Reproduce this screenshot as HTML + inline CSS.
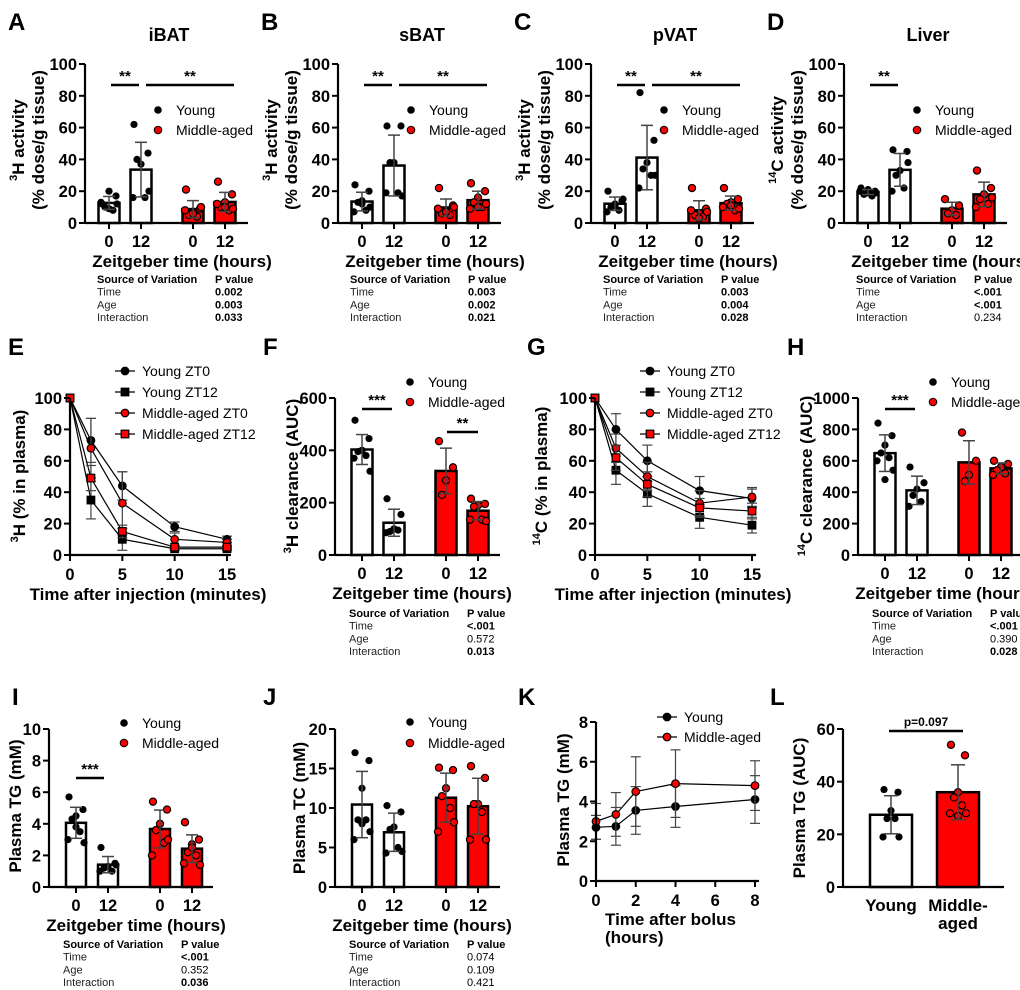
<!DOCTYPE html>
<html><head><meta charset="utf-8">
<style>
html,body{margin:0;padding:0;background:#fff;}
svg{display:block;font-family:"Liberation Sans",Arial,sans-serif;}
</style></head>
<body>
<svg id="fig" width="1020" height="990" viewBox="0 0 1020 990" xmlns="http://www.w3.org/2000/svg"></svg>
<script>
// ===== data =====
const zt = ["0","12","0","12"];
const ticks100 = [0,20,40,60,80,100];
// A iBAT
const aY0 = [12,17,20,10,8,13,12,9];
const aY12 = [62,44,37,40,16,16,20];
const aM0 = [21,9,7,5,4,8,10,6];
const aM12 = [26,18,13,10,8,12,9,10];
// B sBAT
const bY0 = [24,20,14,13,8,7,10,12];
const bY12 = [61,61,38,38,19,19,17];
const bM0 = [22,11,8,6,5,9,10,7];
const bM12 = [25,20,16,13,10,9,12,10];
// C pVAT
const cY0 = [20,14,12,10,8,7,15,11];
const cY12 = [82,52,38,34,30,22,30];
const cM0 = [22,9,6,5,4,8,7,3];
const cM12 = [22,15,13,12,8,10,9,11];
// D Liver
const dY0 = [22,20,19,18,17,20,19,21];
const dY12 = [46,45,33,30,22,20,38];
const dM0 = [15,11,8,6,5];
const dM12 = [33,22,18,15,12,10,16];
// E 3H plasma
const eTimes = [0,2,5,10,15];
const eYZ0 = [100,73,44,18,10];
const eYZ12 = [100,35,10,4,4];
const eMZ0 = [100,68,33,10,8];
const eMZ12 = [100,49,15,5,5];
const eErrYZ0 = [0,14,9,3,2];
const eErrYZ12 = [0,12,7,1,1];
const eErrMZ0 = [0,19,20,4,2];
const eErrMZ12 = [0,8,4,1,1];
// F 3H clearance
const fY0 = [515,445,400,395,380,370,320,400];
const fY12 = [215,155,100,90,95,85];
const fM0 = [435,335,285,230];
const fM12 = [215,195,190,185,135,135,130];
// G 14C plasma
const gYZ0 = [100,80,60,41,36];
const gYZ12 = [100,54,39,24,19];
const gMZ0 = [100,68,50,33,37];
const gMZ12 = [100,62,45,30,28];
const gErrYZ0 = [0,10,10,9,6];
const gErrYZ12 = [0,9,8,7,5];
const gErrMZ0 = [0,9,9,8,6];
const gErrMZ12 = [0,8,8,6,5];
// H 14C clearance
const hY0 = [840,760,700,650,620,600,540,480];
const hY12 = [560,460,420,380,340,310];
const hM0 = [780,600,510,470];
const hM12 = [600,580,560,540,520,510];
// I Plasma TG
const iY0 = [5.7,4.9,4.5,4.3,3.5,3.0,2.8,3.8];
const iY12 = [2.5,1.5,1.3,1.2,1.0,1.0,1.4];
const iM0 = [5.4,4.9,4.0,3.6,2.8,2.0,3.0];
const iM12 = [4.1,3.0,2.7,2.2,2.0,1.5,1.4,2.5];
// J Plasma TC
const jY0 = [17,16,12.5,8.5,8.5,6,7,8];
const jY12 = [10.3,9.5,7.6,7.3,5,4.3,4.5];
const jM0 = [15.1,14.8,12.5,11.5,10,7,8.2];
const jM12 = [15.3,13.8,10.5,10.5,9.5,6,6];
// K Plasma TG time course
const kTimes = [0,1,2,4,8];
const kYoung = [2.7,2.75,3.55,3.75,4.1];
const kMid = [3.0,3.35,4.5,4.9,4.8];
const kErrYoung = [0.6,0.95,1.2,1.05,1.2];
const kErrMid = [0.9,1.1,1.75,1.7,1.25];
// L Plasma TG AUC
const lCats = ["Young","Middle-aged"];
const lYoung = [37,36,29,26,26,19,19];
const lMid = [54,50,36,34,31,28,28,27];

// ===== helpers =====
const NS = "http://www.w3.org/2000/svg";
const svg = document.getElementById("fig");
const TF = 16.5;
function el(tag, attrs, parent, txt){
  const e = document.createElementNS(NS, tag);
  for (const k in attrs) e.setAttribute(k, attrs[k]);
  if (txt !== undefined) e.textContent = txt;
  (parent||svg).appendChild(e);
  return e;
}
function grp(name){
  const g = document.createElementNS(NS,"g");
  
  
  svg.appendChild(g);
  return g;
}
function mean(a){return a.reduce((s,v)=>s+v,0)/a.length;}
function sd(a){const m=mean(a);return Math.sqrt(a.reduce((s,v)=>s+(v-m)*(v-m),0)/(a.length-1));}
const jit = [-7,7,0,-4,4,-8,8,0,-3,3];

function letter(t,x,y,g){el("text",{x:x,y:y,"font-size":24,"font-weight":"bold"},g,t);}
function yAxis(g,ax,yb,yt,max,ticks){
  el("line",{x1:ax,y1:yb+1,x2:ax,y2:yt,stroke:"#000","stroke-width":2.2},g);
  ticks.forEach(t=>{
    const y = yb-(t/max)*(yb-yt);
    el("line",{x1:ax-6,y1:y,x2:ax,y2:y,stroke:"#000","stroke-width":2},g);
    const tx = el("text",{x:ax-8,y:y+6,"font-size":TF,"font-weight":"bold","text-anchor":"end"},g,String(t));
    
    
  });
}
function rotLabel(g,x,y,parts){
  const t = el("text",{x:0,y:0,"font-size":17,"font-weight":"bold","text-anchor":"middle",transform:`translate(${x},${y}) rotate(-90)`},g);
  parts.forEach(p=>{
    el("tspan",p.sup?{"font-size":11,dy:-7}:(p.down?{dy:7}:{}),t,p.t);
  });
  
  
  return t;
}
function legendDots(g,x,y1,y2){
  el("circle",{cx:x,cy:y1,r:3.8,fill:"#000"},g);
  el("circle",{cx:x,cy:y2,r:3.8,fill:"#e00",stroke:"#000","stroke-width":1},g);
  el("text",{x:x+18,y:y1+5,"font-size":14},g,"Young");
  el("text",{x:x+18,y:y2+5,"font-size":14},g,"Middle-aged");
}
function sig(g,x1,x2,y,stars){
  el("line",{x1:x1,y1:y,x2:x2,y2:y,stroke:"#000","stroke-width":2.5},g);
  el("text",{x:(x1+x2)/2,y:y-4,"font-size":15,"font-weight":"bold","text-anchor":"middle"},g,stars);
}
function table(g,x,y,rows){
  el("text",{x:x,y:y,"font-size":11,"font-weight":"bold"},g,"Source of Variation");
  el("text",{x:x+118,y:y,"font-size":11,"font-weight":"bold"},g,"P value");
  ["Time","Age","Interaction"].forEach((r,i)=>{
    el("text",{x:x,y:y+12.7*(i+1),"font-size":11,fill:"#222"},g,r);
    el("text",{x:x+118,y:y+12.7*(i+1),"font-size":11,"font-weight":rows[i][1]?"bold":"normal"},g,rows[i][0]);
  });
}
function barPanel(o){
  const g = grp(o.name);
  const yb=o.yb, yt=o.yt, max=o.max;
  const ys = v=>yb-(v/max)*(yb-yt);
  o.groups.forEach((pts,i)=>{
    const cx = o.ax+o.offs[i];
    const red = i>=2;
    const m = mean(pts), s = sd(pts);
    const r = el("rect",{x:cx-o.bw/2,y:ys(m),width:o.bw,height:yb-ys(m),fill:red?"#f00":"#fff",stroke:"#000","stroke-width":2.5},g);
    
    
    pts.forEach((v,k)=>{
      const c = el("circle",{cx:cx+jit[k%jit.length],cy:ys(v),r:3.6,fill:red?"#f00":"#000",stroke:"#000","stroke-width":red?1.2:0},g);
      
      
    });
    el("line",{x1:cx,y1:ys(m+s),x2:cx,y2:ys(Math.max(0,m-s)),stroke:"#444","stroke-width":1.5},g);
    el("line",{x1:cx-6,y1:ys(m+s),x2:cx+6,y2:ys(m+s),stroke:"#444","stroke-width":1.5},g);
    el("line",{x1:cx-6,y1:ys(Math.max(0,m-s)),x2:cx+6,y2:ys(Math.max(0,m-s)),stroke:"#444","stroke-width":1.5},g);
    el("text",{x:cx,y:yb+24,"font-size":TF,"font-weight":"bold","text-anchor":"middle"},g,o.cats[i]);
  });
  yAxis(g,o.ax,yb,yt,max,o.ticks);
  el("line",{x1:o.ax,y1:yb,x2:o.right,y2:yb,stroke:"#000","stroke-width":2.2},g);
  o.offs.forEach(off=>el("line",{x1:o.ax+off,y1:yb,x2:o.ax+off,y2:yb+6,stroke:"#000","stroke-width":2},g));
  if(o.xlab) el("text",{x:o.ax+o.xlabX,y:yb+44,"font-size":17,"font-weight":"bold","text-anchor":"middle"},g,"Zeitgeber time (hours)");
  return g;
}
function linePanel(o){
  const g = grp(o.name);
  const xs = v=>o.ax+(v/o.xmax)*(o.xr-o.ax);
  const ys = v=>o.yb-(v/o.max)*(o.yb-o.yt);
  const R = 3.8;
  o.series.forEach((s,si)=>{
    let d="";
    o.times.forEach((t,i)=>{d+=(i?"L":"M")+xs(t)+","+ys(s.v[i]);});
    const p = el("path",{d:d,fill:"none",stroke:"#000","stroke-width":1.2},g);
    
    
    o.times.forEach((t,i)=>{
      const e=s.e[i];
      if(e>0){
        el("line",{x1:xs(t),y1:ys(s.v[i]+e),x2:xs(t),y2:ys(s.v[i]-e),stroke:"#444","stroke-width":1.2},g);
        el("line",{x1:xs(t)-5,y1:ys(s.v[i]+e),x2:xs(t)+5,y2:ys(s.v[i]+e),stroke:"#444","stroke-width":1.2},g);
        el("line",{x1:xs(t)-5,y1:ys(s.v[i]-e),x2:xs(t)+5,y2:ys(s.v[i]-e),stroke:"#444","stroke-width":1.2},g);
      }
      let m;
      if(s.sq) m = el("rect",{x:xs(t)-R,y:ys(s.v[i])-R,width:2*R,height:2*R,fill:s.red?"#f00":"#000",stroke:"#000","stroke-width":1.2},g);
      else m = el("circle",{cx:xs(t),cy:ys(s.v[i]),r:R,fill:s.red?"#f00":"#000",stroke:"#000","stroke-width":1.2},g);
      
      
    });
  });
  yAxis(g,o.ax,o.yb,o.yt,o.max,o.ticks);
  el("line",{x1:o.ax,y1:o.yb,x2:o.xr+4,y2:o.yb,stroke:"#000","stroke-width":2.2},g);
  o.xticks.forEach(t=>{
    el("line",{x1:xs(t),y1:o.yb,x2:xs(t),y2:o.yb+6,stroke:"#000","stroke-width":2},g);
    el("text",{x:xs(t),y:o.yb+25,"font-size":TF,"font-weight":"bold","text-anchor":"middle"},g,String(t));
  });
  o.series.forEach((s,i)=>{
    const ly=o.ly+i*o.lstep;
    el("line",{x1:o.lx,y1:ly,x2:o.lx+20,y2:ly,stroke:"#000","stroke-width":1.2},g);
    if(s.sq) el("rect",{x:o.lx+10-R,y:ly-R,width:2*R,height:2*R,fill:s.red?"#f00":"#000",stroke:"#000","stroke-width":1.2},g);
    else el("circle",{cx:o.lx+10,cy:ly,r:R,fill:s.red?"#f00":"#000",stroke:"#000","stroke-width":1.2},g);
    el("text",{x:o.lx+27,y:ly+5,"font-size":14},g,s.name);
  });
  return g;
}

// ===== Row 1 =====
const row1 = [
  {L:"A",t:"iBAT",ax:85,g:[aY0,aY12,aM0,aM12],tab:[["0.002",1],["0.003",1],["0.033",1]],two:true,iso:"3",lab:"H activity"},
  {L:"B",t:"sBAT",ax:338,g:[bY0,bY12,bM0,bM12],tab:[["0.003",1],["0.002",1],["0.021",1]],two:true,iso:"3",lab:"H activity"},
  {L:"C",t:"pVAT",ax:591,g:[cY0,cY12,cM0,cM12],tab:[["0.003",1],["0.004",1],["0.028",1]],two:true,iso:"3",lab:"H activity"},
  {L:"D",t:"Liver",ax:844,g:[dY0,dY12,dM0,dM12],tab:[["<.001",1],["<.001",1],["0.234",0]],two:false,iso:"14",lab:"C activity"}
];
row1.forEach(p=>{
  const g = barPanel({name:"panel-"+p.L.toLowerCase()+"-"+p.t.toLowerCase(),ax:p.ax,yb:223,yt:64,max:100,ticks:ticks100,groups:p.g,offs:[24,56,108,140],bw:21,right:p.ax+163,cats:zt,xlab:true,xlabX:97});
  letter(p.L,p.ax-77,30,g);
  el("text",{x:p.ax+84,y:41,"font-size":18,"font-weight":"bold","text-anchor":"middle"},g,p.t);
  rotLabel(g,p.ax-61,140,[{t:p.iso,sup:true},{t:p.lab,down:true}]);
  rotLabel(g,p.ax-41,140,[{t:"(% dose/g tissue)"}]);
  legendDots(g,p.ax+73,110,130);
  sig(g,p.ax+26,p.ax+54,85,"**");
  if(p.two) sig(g,p.ax+61,p.ax+149,85,"**");
  table(g,p.ax+12,283,p.tab);
});

// ===== Row 2 =====
linePanel({name:"panel-e-3h-plasma",ax:70,xr:227,xmax:15,yb:555,yt:398,max:100,ticks:ticks100,times:eTimes,xticks:[0,5,10,15],
  series:[{name:"Young ZT0",v:eYZ0,e:eErrYZ0},{name:"Young ZT12",v:eYZ12,e:eErrYZ12,sq:true},{name:"Middle-aged ZT0",v:eMZ0,e:eErrMZ0,red:true},{name:"Middle-aged ZT12",v:eMZ12,e:eErrMZ12,red:true,sq:true}],
  lx:115,ly:371,lstep:21});
(function(){const g=grp("panel-e-labels");letter("E",8,355,g);
 rotLabel(g,25,476,[{t:"3",sup:true},{t:"H (% in plasma)",down:true}]);
 el("text",{x:148,y:600,"font-size":17,"font-weight":"bold","text-anchor":"middle"},g,"Time after injection (minutes)");})();

let gF = barPanel({name:"panel-f-3h-clearance",ax:335,yb:555,yt:398,max:600,ticks:[0,200,400,600],groups:[fY0,fY12,fM0,fM12],offs:[27,59,111,143],bw:21,right:500,cats:zt,xlab:true,xlabX:87});
letter("F",263,355,gF);
rotLabel(gF,298,476,[{t:"3",sup:true},{t:"H clearance (AUC)",down:true}]);
legendDots(gF,410,382,402);
sig(gF,362,392,409,"***");
sig(gF,447,478,432,"**");
table(gF,349,617,[["<.001",1],["0.572",0],["0.013",1]]);

linePanel({name:"panel-g-14c-plasma",ax:595,xr:752,xmax:15,yb:555,yt:398,max:100,ticks:ticks100,times:eTimes,xticks:[0,5,10,15],
  series:[{name:"Young ZT0",v:gYZ0,e:gErrYZ0},{name:"Young ZT12",v:gYZ12,e:gErrYZ12,sq:true},{name:"Middle-aged ZT0",v:gMZ0,e:gErrMZ0,red:true},{name:"Middle-aged ZT12",v:gMZ12,e:gErrMZ12,red:true,sq:true}],
  lx:640,ly:371,lstep:21});
(function(){const g=grp("panel-g-labels");letter("G",527,355,g);
 rotLabel(g,547,476,[{t:"14",sup:true},{t:"C (% in plasma)",down:true}]);
 el("text",{x:673,y:600,"font-size":17,"font-weight":"bold","text-anchor":"middle"},g,"Time after injection (minutes)");})();

let gH = barPanel({name:"panel-h-14c-clearance",ax:858,yb:555,yt:398,max:1000,ticks:[0,200,400,600,800,1000],groups:[hY0,hY12,hM0,hM12],offs:[27,59,111,143],bw:21,right:1020,cats:zt,xlab:true,xlabX:87});
letter("H",787,355,gH);
rotLabel(gH,812,476,[{t:"14",sup:true},{t:"C clearance (AUC)",down:true}]);
legendDots(gH,933,382,402);
sig(gH,885,915,409,"***");
table(gH,872,617,[["<.001",1],["0.390",0],["0.028",1]]);

// ===== Row 3 =====
let gI = barPanel({name:"panel-i-plasma-tg",ax:49,yb:887,yt:729,max:10,ticks:[0,2,4,6,8,10],groups:[iY0,iY12,iM0,iM12],offs:[27,59,111,143],bw:20,right:213,cats:zt,xlab:true,xlabX:87});
letter("I",12,705,gI);
rotLabel(gI,21,806,[{t:"Plasma TG (mM)"}]);
legendDots(gI,124,723,743);
sig(gI,76,104,778,"***");
table(gI,63,948,[["<.001",1],["0.352",0],["0.036",1]]);

let gJ = barPanel({name:"panel-j-plasma-tc",ax:335,yb:887,yt:729,max:20,ticks:[0,5,10,15,20],groups:[jY0,jY12,jM0,jM12],offs:[27,59,111,143],bw:20,right:500,cats:zt,xlab:true,xlabX:87});
letter("J",263,705,gJ);
rotLabel(gJ,305,808,[{t:"Plasma TC (mM)"}]);
legendDots(gJ,410,722,743);
table(gJ,349,948,[["0.074",0],["0.109",0],["0.421",0]]);

linePanel({name:"panel-k-plasma-tg-time",ax:596,xr:755,xmax:8,yb:881,yt:722,max:8,ticks:[0,2,4,6,8],times:kTimes,xticks:[0,2,4,6,8],
  series:[{name:"Young",v:kYoung,e:kErrYoung},{name:"Middle-aged",v:kMid,e:kErrMid,red:true}],lx:657,ly:717,lstep:20});
(function(){const g=grp("panel-k-labels");letter("K",518,705,g);
 rotLabel(g,569,800,[{t:"Plasma TG (mM)"}]);
 el("text",{x:605,y:925,"font-size":17,"font-weight":"bold"},g,"Time after bolus");
 el("text",{x:605,y:943,"font-size":17,"font-weight":"bold"},g,"(hours)");})();

(function(){
  const g=grp("panel-l-plasma-tg-auc");
  const ax=843,yb=887,yt=729,max=60;
  const ys=v=>yb-(v/max)*(yb-yt);
  const groups=[lYoung,lMid], cx=[891,958];
  groups.forEach((pts,i)=>{
    const m=mean(pts),s=sd(pts);
    const r=el("rect",{x:cx[i]-21,y:ys(m),width:42,height:yb-ys(m),fill:i?"#f00":"#fff",stroke:"#000","stroke-width":2.5},g);
    
    
    pts.forEach((v,k)=>{
      const c=el("circle",{cx:cx[i]+jit[k%jit.length],cy:ys(v),r:3.6,fill:i?"#f00":"#000",stroke:"#000","stroke-width":i?1.2:0},g);
      
      
    });
    el("line",{x1:cx[i],y1:ys(m+s),x2:cx[i],y2:ys(m-s),stroke:"#444","stroke-width":1.5},g);
    el("line",{x1:cx[i]-7,y1:ys(m+s),x2:cx[i]+7,y2:ys(m+s),stroke:"#444","stroke-width":1.5},g);
    el("line",{x1:cx[i]-7,y1:ys(m-s),x2:cx[i]+7,y2:ys(m-s),stroke:"#444","stroke-width":1.5},g);
  });
  yAxis(g,ax,yb,yt,max,[0,20,40,60]);
  el("line",{x1:ax,y1:yb,x2:1004,y2:yb,stroke:"#000","stroke-width":2.2},g);
  el("text",{x:891,y:911,"font-size":17,"font-weight":"bold","text-anchor":"middle"},g,"Young");
  el("text",{x:958,y:911,"font-size":17,"font-weight":"bold","text-anchor":"middle"},g,"Middle-");
  el("text",{x:958,y:929,"font-size":17,"font-weight":"bold","text-anchor":"middle"},g,"aged");
  el("line",{x1:889,y1:731,x2:963,y2:731,stroke:"#000","stroke-width":2.5},g);
  el("text",{x:926,y:726,"font-size":12,"font-weight":"bold","text-anchor":"middle"},g,"p=0.097");
  letter("L",770,705,g);
  rotLabel(g,805,808,[{t:"Plasma TG (AUC)"}]);
})();
</script>
</body></html>
